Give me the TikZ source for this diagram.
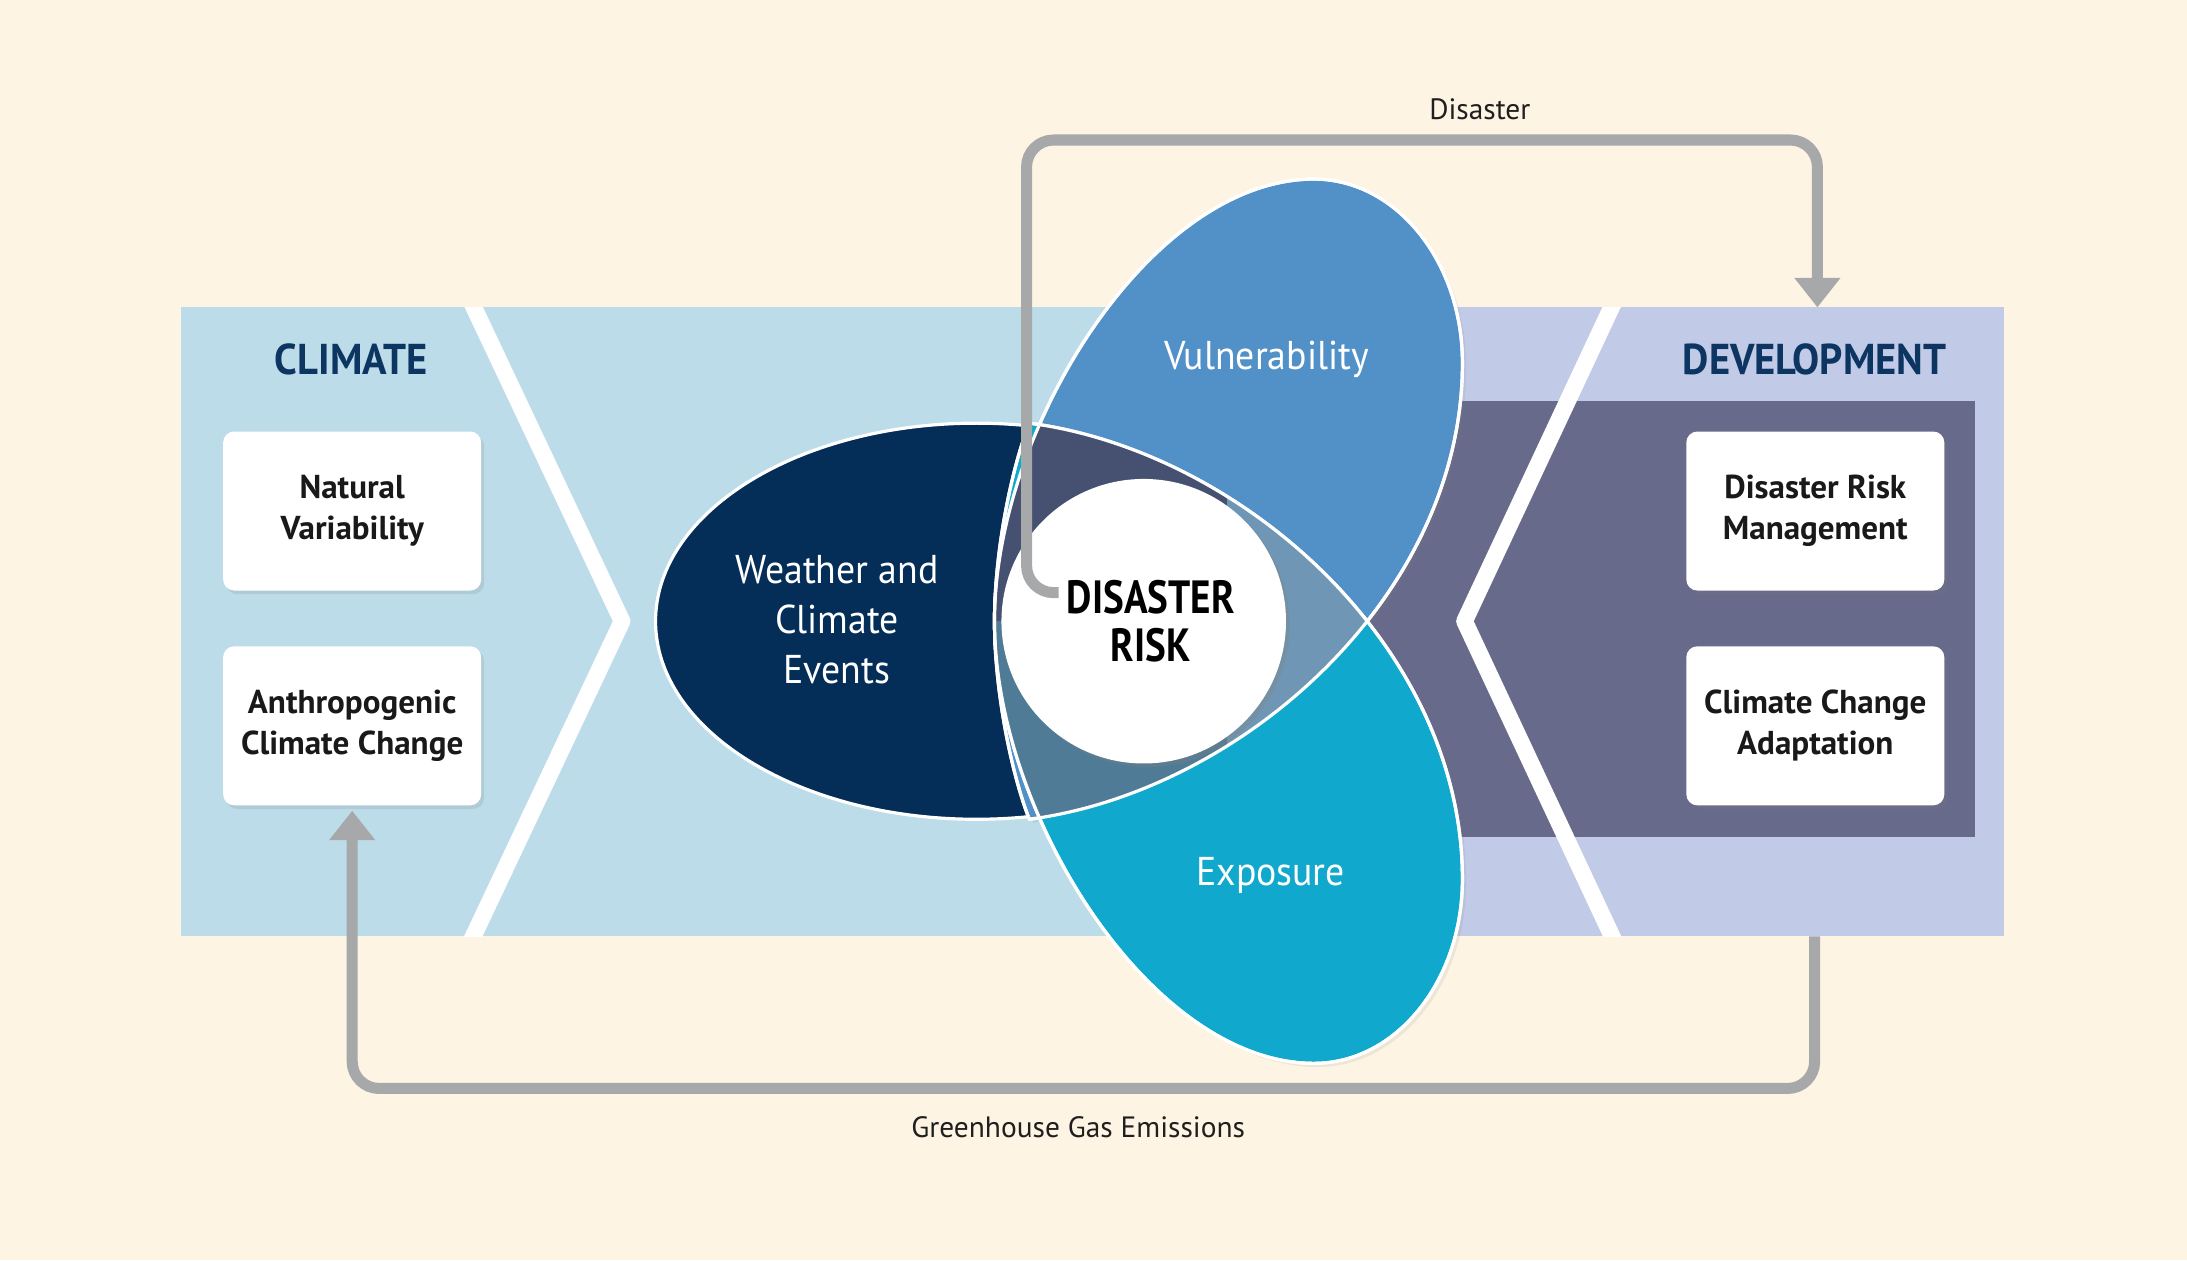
\documentclass[tikz,border=0pt]{standalone}
\usepackage{fontspec}
\setmainfont{PT Sans}
\newfontfamily\narrowsans[FakeStretch=0.94]{PT Sans}
\newfontfamily\condsans[FakeStretch=0.84]{PT Sans}
\usetikzlibrary{arrows.meta,shadows}

\definecolor{cream}{HTML}{FDF4E4}
\definecolor{climateblue}{HTML}{BDDCEA}
\definecolor{devlavender}{HTML}{C1CAE6}
\definecolor{devpurple}{HTML}{676A8A}
\definecolor{weathernavy}{HTML}{042D57}
\definecolor{vulnblue}{HTML}{5291C7}
\definecolor{expoteal}{HTML}{10A8CC}
\definecolor{lensnavy}{HTML}{465070}
\definecolor{lensteal}{HTML}{4F7B97}
\definecolor{lensblue}{HTML}{6F97B5}
\definecolor{titlenavy}{HTML}{0D3561}
\definecolor{loopgray}{HTML}{A6A8AA}

\tikzset{
	vulnshape/.style={insert path={(7.38,3.16) .. controls (8.9,3.36) and (10.485,4.76) .. (10.485,6.43) .. controls (10.485,7.16) and (10.01,7.75) .. (9.42,7.75) .. controls (8.25,7.75) and (7.13,5.96) .. (7.13,4.58) .. controls (7.13,4.06) and (7.26,3.46) .. cycle}},
	exposhape/.style={insert path={(7.38,6.00) .. controls (8.9,5.8) and (10.485,4.4) .. (10.485,2.73) .. controls (10.485,2.0) and (10.01,1.41) .. (9.42,1.41) .. controls (8.25,1.41) and (7.13,3.2) .. (7.13,4.58) .. controls (7.13,5.1) and (7.26,5.7) .. cycle}},
}

\begin{document}
\begin{tikzpicture}[x=2cm, y=2cm, line join=round,
	petaledge/.style={draw=white, line width=1.3pt},
	chevron/.style={draw=white, line width=6.8pt},
	infobox/.style={rectangle, rounded corners=4.5pt, fill=white, minimum width=3.7cm, minimum height=2.28cm, align=center, text=black!90, font=\bfseries\fontsize{13.5}{16.8}\selectfont, drop shadow={opacity=0.18, shadow xshift=1.2pt, shadow yshift=-1.5pt}},
	bandtitle/.style={text=titlenavy, font=\narrowsans\bfseries\fontsize{17.6}{20}\selectfont},
	petaltext/.style={text=white, align=center, font=\narrowsans\fontsize{16.4}{20.4}\selectfont},
	riskcircle/.style={circle, fill=white, minimum size=4.08cm, inner sep=0pt, drop shadow={opacity=0.3, shadow xshift=1.5pt, shadow yshift=-1.5pt}},
	risktext/.style={align=center, text=black, font=\condsans\bfseries\fontsize{19}{19.8}\selectfont},
	cycleline/.style={draw=loopgray, line width=4.5pt, rounded corners=11pt, -{Triangle[width=18pt,length=12pt]}},
	looplabel/.style={text=black!88, font=\fontsize{12}{14}\selectfont}]
	\useasboundingbox (0,0) rectangle (15.68,9.034);
	\fill[cream] (0,0) rectangle (15.68,9.034);
	\fill[climateblue] (1.30,2.32) rectangle (9.6,6.83);
	\fill[devlavender] (9.6,2.32) rectangle (14.37,6.83);
	\fill[devpurple] (9.6,3.03) rectangle (14.16,6.16);
	\begin{scope}
		\clip (1.30,2.32) rectangle (14.37,6.83);
		\draw[chevron] (3.27,7.1) -- (4.46,4.58) -- (3.27,2.06);
		\draw[chevron] (11.68,7.1) -- (10.50,4.58) -- (11.68,2.06);
	\end{scope}
	\node[bandtitle] (climate) at (2.52,6.46) {CLIMATE};
	\node[bandtitle] (development) at (13.01,6.46) {DEVELOPMENT};
	\node[infobox] (natvar) at (2.525,5.37) {Natural\\Variability};
	\node[infobox] (anthro) at (2.525,3.83) {Anthropogenic\\Climate Change};
	\node[infobox] (drm) at (13.015,5.37) {Disaster Risk\\Management};
	\node[infobox] (cca) at (13.015,3.83) {Climate Change\\Adaptation};

	\filldraw[fill=weathernavy, petaledge] (7.00,4.58) ellipse [x radius=2.3, y radius=1.42];
	\fill[vulnblue, drop shadow={opacity=0.12, shadow xshift=1.5pt, shadow yshift=-1.5pt}, vulnshape];
	\draw[petaledge, vulnshape];
	\fill[expoteal, drop shadow={opacity=0.12, shadow xshift=1.5pt, shadow yshift=-1.5pt}, exposhape];
	\draw[petaledge, exposhape];
	\begin{scope}
		\clip[vulnshape];
		\clip[exposhape];
		\fill[lensnavy] (7,4.58) rectangle (8.8,6.2);
		\fill[lensteal] (7,2.9) rectangle (8.8,4.58);
		\fill[lensblue] (8.8,2.9) rectangle (10,6.2);
	\end{scope}
	\draw[petaledge, vulnshape];
	\draw[petaledge, exposhape];
	\node[petaltext] (weather) at (6.00,4.59) {Weather and\\Climate\\Events};
	\node[petaltext] (vuln) at (9.08,6.46) {Vulnerability};
	\node[petaltext] (expo) at (9.11,2.76) {Exposure};

	\node[riskcircle] (risk) at (8.20,4.58) {};
	\coordinate (riskin) at (7.59,4.785);
	\coordinate (disastertop) at (7.36,8.03);
	\coordinate (devtop) at (13.03,6.83);
	\coordinate (devbot) at (13.01,2.32);
	\coordinate (ghgcorner) at (2.525,1.23);
	\draw[cycleline] (riskin) -| (disastertop) -| (devtop);
	\draw[cycleline] (devbot) |- (ghgcorner) -- ([yshift=-2pt]anthro.south);
	\node[risktext] (risklabel) at (8.25,4.58) {DISASTER\\RISK};
	\node[looplabel] (disasterlabel) at (10.61,8.25) {Disaster};
	\node[looplabel] (ghglabel) at (7.73,0.95) {Greenhouse Gas Emissions};
\end{tikzpicture}
\end{document}
